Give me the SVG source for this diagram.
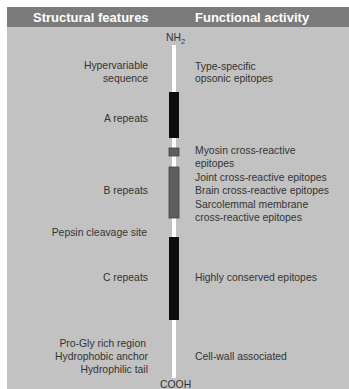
<svg xmlns="http://www.w3.org/2000/svg" width="349" height="389" viewBox="0 0 349 389">
<style>
text{font-family:"Liberation Sans",Arial,sans-serif;font-size:10.4px;fill:#333}
.l{text-anchor:end}
.h{font-weight:bold;font-size:13px;fill:#fff}
.blk{fill:#0d0d0d}
.gry{fill:#5e5e5e;stroke:#444;stroke-width:0.8}
</style>
<rect x="0" y="0" width="349" height="389" fill="#fff"/>
<rect id="panel" x="7" y="27" width="342" height="362" fill="#c2c2c2"/>
<g id="header">
<rect x="7" y="7" width="342" height="20" fill="#7b7b7b"/>
<text class="h" x="33" y="22">Structural features</text>
<text class="h" x="195" y="22">Functional activity</text>
</g>
<g id="connectors">
<rect x="172" y="45" width="4" height="333" fill="#fff"/>
</g>
<g id="nh2"><text x="166" y="41">NH<tspan font-size="7.5" dy="2.5">2</tspan></text></g>
<g id="a-repeats"><rect class="blk" x="169" y="92" width="10" height="46"/><text class="l" x="148" y="122">A repeats</text></g>
<g id="myosin"><rect class="gry" x="169" y="148" width="10" height="8"/></g>
<g id="b-repeats"><rect class="gry" x="169" y="167" width="10" height="51"/><text class="l" x="148" y="194">B repeats</text></g>
<g id="c-repeats"><rect class="blk" x="169" y="237" width="10" height="83"/><text class="l" x="148" y="281">C repeats</text></g>
<g id="hypervariable"><text class="l" x="148" y="69">Hypervariable</text><text class="l" x="148" y="82">sequence</text></g>
<g id="pepsin"><text class="l" x="147" y="236">Pepsin cleavage site</text></g>
<g id="tail"><text class="l" x="146" y="347">Pro-Gly rich region</text><text class="l" x="148" y="360">Hydrophobic anchor</text><text class="l" x="148" y="373">Hydrophilic tail</text></g>
<g id="cooh"><text x="160" y="388">COOH</text></g>
<g id="functions">
<text x="195" y="70">Type-specific</text>
<text x="195" y="82">opsonic epitopes</text>
<text x="195" y="154">Myosin cross-reactive</text>
<text x="195" y="167">epitopes</text>
<text x="195" y="180.5">Joint cross-reactive epitopes</text>
<text x="195" y="194">Brain cross-reactive epitopes</text>
<text x="195" y="207.5">Sarcolemmal membrane</text>
<text x="195" y="221">cross-reactive epitopes</text>
<text x="195" y="281">Highly conserved epitopes</text>
<text x="195" y="360">Cell-wall associated</text>
</g>
</svg>
